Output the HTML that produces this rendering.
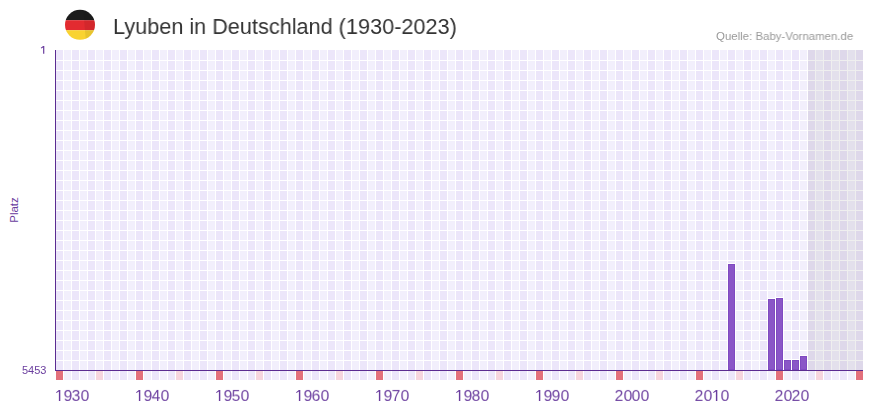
<!DOCTYPE html><html><head><meta charset="utf-8"><style>
html,body{margin:0;padding:0;background:#fff;width:873px;height:412px;overflow:hidden;position:relative;font-family:"Liberation Sans",sans-serif}
.a{position:absolute}
.t{position:absolute;white-space:nowrap;line-height:1}
.dg{top:388.2px;width:20px;text-align:center;font-size:16px;color:#6a3d9e;transform:scale(0.95,0.93);transform-origin:50% 13.5px;will-change:transform}
</style></head><body>
<svg class="a" style="left:0;top:0" width="873" height="412" viewBox="0 0 873 412">
<defs><clipPath id="c"><circle cx="80" cy="24.8" r="15"/></clipPath></defs>
<g clip-path="url(#c)">
<rect x="64" y="9" width="32" height="11.2" fill="#1c1c1c"/>
<rect x="64" y="20.2" width="32" height="10" fill="#e32b30"/>
<rect x="64" y="30.2" width="32" height="11" fill="#f9d332"/>
<path d="M83.3 8 Q84.3 25 86 42 L97 42 L97 8 Z" fill="#000" opacity="0.07"/>
</g></svg>
<div class="a" style="left:56px;top:50px;width:807px;height:320px;background:repeating-linear-gradient(to right,#ece6fa 0 7px,#fff 7px 8px,#f2effc 8px 15px,#fff 15px 16px)"></div>
<div class="a" style="left:56px;top:50px;width:807px;height:320px;background:repeating-linear-gradient(to bottom,#fff 0 1px,transparent 1px 10px);background-position:0 0"></div>
<div class="a" style="left:56px;top:50px;width:807px;height:1px;background:repeating-linear-gradient(to right,#ece6fa 0 7px,#fff 7px 8px,#f2effc 8px 15px,#fff 15px 16px)"></div>
<div class="a" style="left:56px;top:371px;width:807px;height:9px;background:repeating-linear-gradient(to right,#ece6fa 0 7px,#fff 7px 8px,#f2effc 8px 15px,#fff 15px 16px)"></div>
<div class="a" style="left:56px;top:371px;width:7px;height:9px;background:#e3707c"></div>
<div class="a" style="left:96px;top:371px;width:7px;height:9px;background:#f6d5de"></div>
<div class="a" style="left:136px;top:371px;width:7px;height:9px;background:#e3707c"></div>
<div class="a" style="left:176px;top:371px;width:7px;height:9px;background:#f6d5de"></div>
<div class="a" style="left:216px;top:371px;width:7px;height:9px;background:#e3707c"></div>
<div class="a" style="left:256px;top:371px;width:7px;height:9px;background:#f6d5de"></div>
<div class="a" style="left:296px;top:371px;width:7px;height:9px;background:#e3707c"></div>
<div class="a" style="left:336px;top:371px;width:7px;height:9px;background:#f6d5de"></div>
<div class="a" style="left:376px;top:371px;width:7px;height:9px;background:#e3707c"></div>
<div class="a" style="left:416px;top:371px;width:7px;height:9px;background:#f6d5de"></div>
<div class="a" style="left:456px;top:371px;width:7px;height:9px;background:#e3707c"></div>
<div class="a" style="left:496px;top:371px;width:7px;height:9px;background:#f6d5de"></div>
<div class="a" style="left:536px;top:371px;width:7px;height:9px;background:#e3707c"></div>
<div class="a" style="left:576px;top:371px;width:7px;height:9px;background:#f6d5de"></div>
<div class="a" style="left:616px;top:371px;width:7px;height:9px;background:#e3707c"></div>
<div class="a" style="left:656px;top:371px;width:7px;height:9px;background:#f6d5de"></div>
<div class="a" style="left:696px;top:371px;width:7px;height:9px;background:#e3707c"></div>
<div class="a" style="left:736px;top:371px;width:7px;height:9px;background:#f6d5de"></div>
<div class="a" style="left:776px;top:371px;width:7px;height:9px;background:#e3707c"></div>
<div class="a" style="left:816px;top:371px;width:7px;height:9px;background:#f6d5de"></div>
<div class="a" style="left:856px;top:371px;width:7px;height:9px;background:#e3707c"></div>
<div class="a" style="left:808px;top:50px;width:55px;height:320px;background:rgba(100,100,100,0.1)"></div>
<div class="a" style="left:728px;top:263px;width:7px;height:1px;background:#fff"></div>
<div class="a" style="left:728px;top:264px;width:7px;height:106px;background:#8a56c7;box-shadow:inset 0 0 0 1px #7f4ac1"></div>
<div class="a" style="left:768px;top:298px;width:7px;height:1px;background:#fff"></div>
<div class="a" style="left:768px;top:299px;width:7px;height:71px;background:#8a56c7;box-shadow:inset 0 0 0 1px #7f4ac1"></div>
<div class="a" style="left:776px;top:297px;width:7px;height:1px;background:#fff"></div>
<div class="a" style="left:776px;top:298px;width:7px;height:72px;background:#8a56c7;box-shadow:inset 0 0 0 1px #7f4ac1"></div>
<div class="a" style="left:784px;top:359px;width:7px;height:1px;background:#fff"></div>
<div class="a" style="left:784px;top:360px;width:7px;height:10px;background:#8a56c7;box-shadow:inset 0 0 0 1px #7f4ac1"></div>
<div class="a" style="left:792px;top:359px;width:7px;height:1px;background:#fff"></div>
<div class="a" style="left:792px;top:360px;width:7px;height:10px;background:#8a56c7;box-shadow:inset 0 0 0 1px #7f4ac1"></div>
<div class="a" style="left:800px;top:355px;width:7px;height:1px;background:#fff"></div>
<div class="a" style="left:800px;top:356px;width:7px;height:14px;background:#8a56c7;box-shadow:inset 0 0 0 1px #7f4ac1"></div>
<div class="a" style="left:55px;top:50px;width:1px;height:321px;background:#5b2c91"></div>
<div class="a" style="left:55px;top:370px;width:808px;height:1px;background:#5b2c91"></div>
<div class="t" id="title" style="left:112.8px;top:15.5px;font-size:22px;color:#333;transform:scaleX(0.985);transform-origin:0 0;will-change:transform;">Lyuben in Deutschland (1930-2023)</div>
<div class="t" id="src" style="left:715.5px;top:30.8px;font-size:11.5px;color:#999;transform:scaleX(0.994);transform-origin:0 0;will-change:transform;">Quelle: Baby-Vornamen.de</div>
<svg class="a" style="left:38px;top:44px" width="10" height="12" viewBox="38 44 10 12"><path d="M43.1 46 H44.3 V53.8 H43.1 V47.6 L41.2 48.5 L40.8 47.8 Z" fill="#6a3d9e"/></svg>
<div class="t" id="low" style="right:827px;top:365px;font-size:11px;color:#6a3d9e;will-change:transform">5453</div>
<div class="t" id="platz" style="left:14.7px;top:209.8px;font-size:11.5px;color:#6a3d9e;transform:translate(-50%,-50%) rotate(-90deg)">Platz</div>
<div class="t dg" style="left:57.80px">9</div>
<div class="t dg" style="left:66.30px">3</div>
<div class="t dg" style="left:74.80px">0</div>
<div class="t dg" style="left:137.80px">9</div>
<div class="t dg" style="left:146.30px">4</div>
<div class="t dg" style="left:154.80px">0</div>
<div class="t dg" style="left:217.80px">9</div>
<div class="t dg" style="left:226.30px">5</div>
<div class="t dg" style="left:234.80px">0</div>
<div class="t dg" style="left:297.80px">9</div>
<div class="t dg" style="left:306.30px">6</div>
<div class="t dg" style="left:314.80px">0</div>
<div class="t dg" style="left:377.80px">9</div>
<div class="t dg" style="left:386.30px">7</div>
<div class="t dg" style="left:394.80px">0</div>
<div class="t dg" style="left:457.80px">9</div>
<div class="t dg" style="left:466.30px">8</div>
<div class="t dg" style="left:474.80px">0</div>
<div class="t dg" style="left:537.80px">9</div>
<div class="t dg" style="left:546.30px">9</div>
<div class="t dg" style="left:554.80px">0</div>
<div class="t dg" style="left:609.30px">2</div>
<div class="t dg" style="left:617.80px">0</div>
<div class="t dg" style="left:626.30px">0</div>
<div class="t dg" style="left:634.80px">0</div>
<div class="t dg" style="left:689.30px">2</div>
<div class="t dg" style="left:697.80px">0</div>
<div class="t dg" style="left:714.80px">0</div>
<div class="t dg" style="left:769.30px">2</div>
<div class="t dg" style="left:777.80px">0</div>
<div class="t dg" style="left:786.30px">2</div>
<div class="t dg" style="left:794.80px">0</div>
<svg class="a" style="left:0;top:0" width="873" height="412"><path d="M58.88 390.1H60.32V401H58.88V391.6L56.45 393L56.10 392.3Z M138.88 390.1H140.32V401H138.88V391.6L136.45 393L136.10 392.3Z M218.88 390.1H220.32V401H218.88V391.6L216.45 393L216.10 392.3Z M298.88 390.1H300.32V401H298.88V391.6L296.45 393L296.10 392.3Z M378.88 390.1H380.32V401H378.88V391.6L376.45 393L376.10 392.3Z M458.88 390.1H460.32V401H458.88V391.6L456.45 393L456.10 392.3Z M538.88 390.1H540.32V401H538.88V391.6L536.45 393L536.10 392.3Z M715.88 390.1H717.32V401H715.88V391.6L713.45 393L713.10 392.3Z" fill="#6a3d9e"/></svg>
</body></html>
